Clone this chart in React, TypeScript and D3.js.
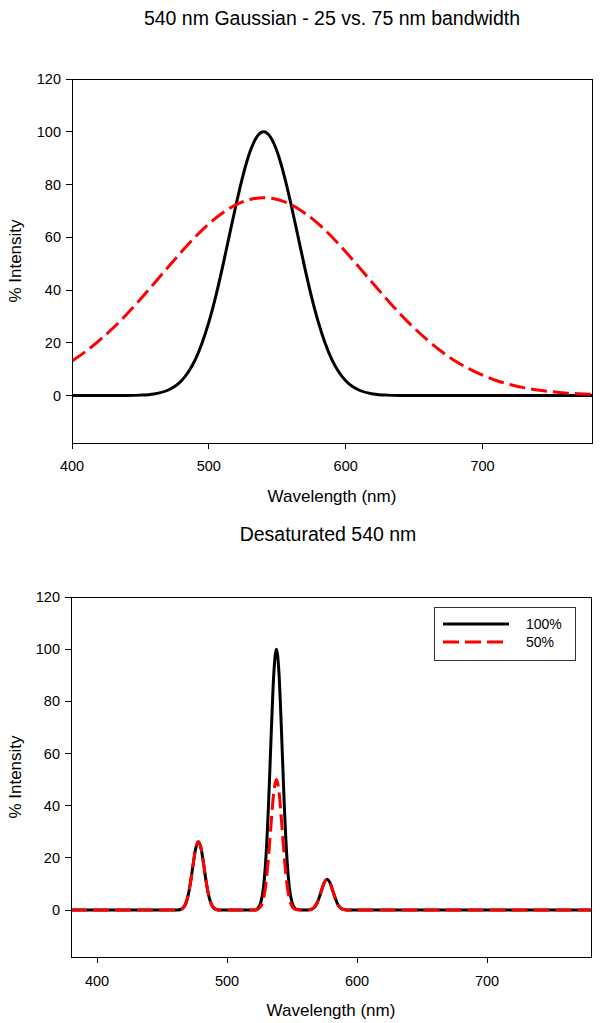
import React from "react";
import * as d3 from "d3";

// ---------- Top chart data ----------
const topTitle = "540 nm Gaussian - 25 vs. 75 nm bandwidth";
const topNarrowWl = [400, 410, 420, 430, 440, 450, 460, 470, 475, 480, 485, 490, 495, 500, 505, 510, 515, 520, 525, 530, 535, 540, 545, 550, 555, 560, 565, 570, 575, 580, 585, 590, 595, 600, 605, 610, 620, 630, 640, 650, 660, 680, 700, 720, 740, 760, 780];
const topNarrowVal = [0, 0, 0, 0.01, 0.03, 0.15, 0.6, 2.0, 3.4, 5.6, 8.9, 13.5, 19.8, 27.8, 37.5, 48.7, 60.7, 72.6, 83.5, 92.3, 98.0, 100, 98.0, 92.3, 83.5, 72.6, 60.7, 48.7, 37.5, 27.8, 19.8, 13.5, 8.9, 5.6, 3.4, 2.0, 0.6, 0.15, 0.03, 0.01, 0, 0, 0, 0, 0, 0, 0];
const topWideWl = [400, 410, 420, 430, 440, 450, 460, 470, 480, 490, 500, 510, 520, 530, 540, 550, 560, 570, 580, 590, 600, 610, 620, 630, 640, 650, 660, 670, 680, 690, 700, 710, 720, 730, 740, 750, 760, 770, 780];
const topWideVal = [13.1, 16.7, 20.9, 25.6, 30.8, 36.5, 42.5, 48.5, 54.5, 60.1, 65.1, 69.2, 72.4, 74.3, 75, 74.3, 72.4, 69.2, 65.1, 60.1, 54.5, 48.5, 42.5, 36.5, 30.8, 25.6, 20.9, 16.7, 13.1, 10.2, 7.7, 5.7, 4.2, 3.0, 2.1, 1.5, 1.0, 0.7, 0.45];
const topXTicks = [400, 500, 600, 700];

// ---------- Bottom chart data ----------
const bottomTitle = "Desaturated 540 nm";
const bottomWl = [
  380, 400, 420, 440, 460,
  462, 464, 466, 468, 470, 472, 474, 476, 478, 480, 482, 484, 486, 488, 490, 492, 494,
  500, 510, 520,
  522, 524, 526, 528, 530, 532, 534, 536, 538, 540, 542, 544, 546, 548, 550, 552, 554,
  561, 563, 565, 567, 569, 571, 573, 575, 577, 579, 581, 583, 585, 587, 589, 591, 593,
  600, 650, 700, 750, 780,
];
const bottomFull = [
  0, 0, 0, 0, 0,
  0, 0.2, 0.75, 2.2, 5.4, 10.8, 17.7, 23.7, 26.2, 23.7, 17.7, 10.8, 5.4, 2.2, 0.75, 0.2, 0,
  0, 0, 0,
  0, 0.8, 2.9, 8.5, 20.6, 41.1, 67.4, 90.6, 100, 90.6, 67.4, 41.1, 20.6, 8.5, 2.9, 0.8, 0.2,
  0, 0.1, 0.3, 1.0, 2.4, 4.9, 8.0, 10.7, 11.8, 10.7, 8.0, 4.9, 2.4, 1.0, 0.3, 0.1, 0,
  0, 0, 0, 0, 0,
];
const bottomHalf = [
  0, 0, 0, 0, 0,
  0, 0.2, 0.75, 2.2, 5.4, 10.8, 17.7, 23.7, 26.2, 23.7, 17.7, 10.8, 5.4, 2.2, 0.75, 0.2, 0,
  0, 0, 0,
  0, 0.4, 1.4, 4.2, 10.3, 20.6, 33.7, 45.3, 50, 45.3, 33.7, 20.6, 10.3, 4.2, 1.4, 0.4, 0.1,
  0, 0.1, 0.3, 1.0, 2.4, 4.9, 8.0, 10.7, 11.8, 10.7, 8.0, 4.9, 2.4, 1.0, 0.3, 0.1, 0,
  0, 0, 0, 0, 0,
];
const bottomXTicks = [400, 500, 600, 700];
const legendLabels = ["100%", "50%"];

const yTicks = [0, 20, 40, 60, 80, 100, 120];
const xLabel = "Wavelength (nm)";
const yLabel = "% Intensity";

const FONT = "'Liberation Sans', Arial, Helvetica, sans-serif";

type Series = { wl: number[]; val: number[]; color: string; dash?: string };

function Panel(props: {
  x0: number; x1: number; y0: number; y1: number;
  xDomain: [number, number]; xTicks: number[];
  title: string; titleY: number; titleX: number;
  series: Series[]; xLabelY: number; tickLabelY: number;
  clipId: string; legend?: boolean;
}) {
  const { x0, x1, y0, y1, xDomain, xTicks, title, titleY, titleX, series, xLabelY, tickLabelY, clipId, legend } = props;
  const x = d3.scaleLinear().domain(xDomain).range([x0, x1]);
  const y = d3.scaleLinear().domain([-18, 120]).range([y1, y0]);
  const line = d3
    .line<[number, number]>()
    .x((d) => x(d[0]))
    .y((d) => y(d[1]))
    .curve(d3.curveMonotoneX);
  return (
    <g>
      <text x={titleX} y={titleY} textAnchor="middle" fontSize={19.5} fontFamily={FONT} fill="#000">
        {title}
      </text>
      <defs>
        <clipPath id={clipId}>
          <rect x={x0} y={y0} width={x1 - x0} height={y1 - y0} />
        </clipPath>
      </defs>
      <g clipPath={`url(#${clipId})`}>
        {series.map((s, i) => (
          <path
            key={i}
            d={line(s.wl.map((w, j) => [w, s.val[j]] as [number, number])) || ""}
            fill="none"
            stroke={s.color}
            strokeWidth={3}
            strokeDasharray={s.dash}
            strokeLinejoin="round"
          />
        ))}
      </g>
      <rect x={x0} y={y0} width={x1 - x0} height={y1 - y0} fill="none" stroke="#000" strokeWidth={1} shapeRendering="crispEdges" />
      {yTicks.map((t) => (
        <g key={t}>
          <line x1={x0 - 6} x2={x0} y1={y(t)} y2={y(t)} stroke="#000" shapeRendering="crispEdges" />
          <text x={x0 - 11} y={y(t) + 5} textAnchor="end" fontSize={14.5} fontFamily={FONT} fill="#000">
            {t}
          </text>
        </g>
      ))}
      {xTicks.map((t) => (
        <g key={t}>
          <line x1={x(t)} x2={x(t)} y1={y1} y2={y1 + 6} stroke="#000" shapeRendering="crispEdges" />
          <text x={x(t)} y={tickLabelY} textAnchor="middle" fontSize={14.5} fontFamily={FONT} fill="#000">
            {t}
          </text>
        </g>
      ))}
      <text x={(x0 + x1) / 2} y={xLabelY} textAnchor="middle" fontSize={17} fontFamily={FONT} fill="#000">
        {xLabel}
      </text>
      <text
        transform={`translate(21, ${(y0 + y1) / 2}) rotate(-90)`}
        textAnchor="middle"
        fontSize={17}
        fontFamily={FONT}
        fill="#000"
      >
        {yLabel}
      </text>
      {legend && (
        <g>
          <rect x={434} y={607} width={141} height={53} fill="#fff" stroke="#333" strokeWidth={1} shapeRendering="crispEdges" />
          <line x1={443} x2={509} y1={624} y2={624} stroke="#000" strokeWidth={3} />
          <line x1={443} x2={509} y1={642} y2={642} stroke="#ff0000" strokeWidth={3} strokeDasharray="16,6" />
          <text x={526} y={629} fontSize={14} fontFamily={FONT} fill="#000">{legendLabels[0]}</text>
          <text x={526} y={647} fontSize={14} fontFamily={FONT} fill="#000">{legendLabels[1]}</text>
        </g>
      )}
    </g>
  );
}

export default function App() {
  return (
    <svg
      width={601}
      height={1023}
      style={{ position: "absolute", left: 0, top: 0, background: "#fff" }}
    >
      <rect x={0} y={0} width={601} height={1023} fill="#fff" />
      <Panel
        x0={72} x1={592} y0={79} y1={443}
        xDomain={[400, 780]} xTicks={topXTicks}
        title={topTitle} titleX={332} titleY={25}
        series={[
          { wl: topNarrowWl, val: topNarrowVal, color: "#000" },
          { wl: topWideWl, val: topWideVal, color: "#ff0000", dash: "16,6" },
        ]}
        xLabelY={502} tickLabelY={471} clipId="clipTop"
      />
      <Panel
        x0={71} x1={591} y0={597} y1={957}
        xDomain={[380, 780]} xTicks={bottomXTicks}
        title={bottomTitle} titleX={328} titleY={541}
        series={[
          { wl: bottomWl, val: bottomFull, color: "#000" },
          { wl: bottomWl, val: bottomHalf, color: "#ff0000", dash: "16,6" },
        ]}
        xLabelY={1016} tickLabelY={986} clipId="clipBottom" legend
      />
    </svg>
  );
}
